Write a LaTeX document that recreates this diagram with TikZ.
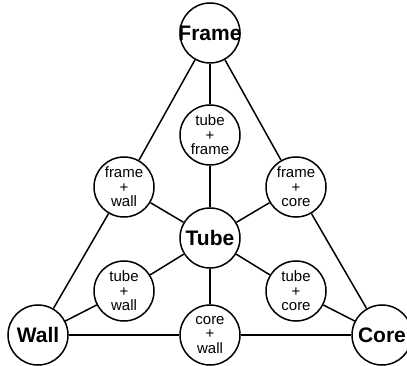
\documentclass[tikz,border=0pt]{standalone}
\usepackage{fontspec}
\setmainfont{Liberation Sans}
\begin{document}
\begin{tikzpicture}[x=1pt,y=-1pt,
  ball/.style={circle,draw,line width=1.5pt,minimum size=60pt,inner sep=0pt,fill=white},
  big/.style={ball,font=\bfseries\fontsize{21}{24}\selectfont},
  mix/.style={ball,align=center,font=\fontsize{15}{14.5}\selectfont},
  link/.style={line width=1.5pt}]
\useasboundingbox (0,0) rectangle (407,366);
\node[big] (frame) at (210,33) {\makebox[0pt]{Frame}};
\node[big] (wall) at (38,335) {\makebox[0pt]{Wall}};
\node[big] (core) at (382,335) {\makebox[0pt]{Core}};
\node[big] (tube) at (210,238) {\makebox[0pt]{Tube}};
\node[mix] (tf) at (210,135) {tube\\+\\frame};
\node[mix] (fw) at (124,187) {frame\\+\\wall};
\node[mix] (fc) at (296,187) {frame\\+\\core};
\node[mix] (tw) at (124,291) {tube\\+\\wall};
\node[mix] (tc) at (296,291) {tube\\+\\core};
\node[mix] (cw) at (210,335) {core\\+\\wall};
\draw[link] (frame) -- (fw) (fw) -- (wall);
\draw[link] (frame) -- (fc) (fc) -- (core);
\draw[link] (wall) -- (cw) (cw) -- (core);
\draw[link] (frame) -- (tf) (tf) -- (tube);
\draw[link] (tube) -- (fw) (tube) -- (fc);
\draw[link] (tube) -- (tw) (tw) -- (wall);
\draw[link] (tube) -- (tc) (tc) -- (core);
\draw[link] (tube) -- (cw);
\end{tikzpicture}
\end{document}
